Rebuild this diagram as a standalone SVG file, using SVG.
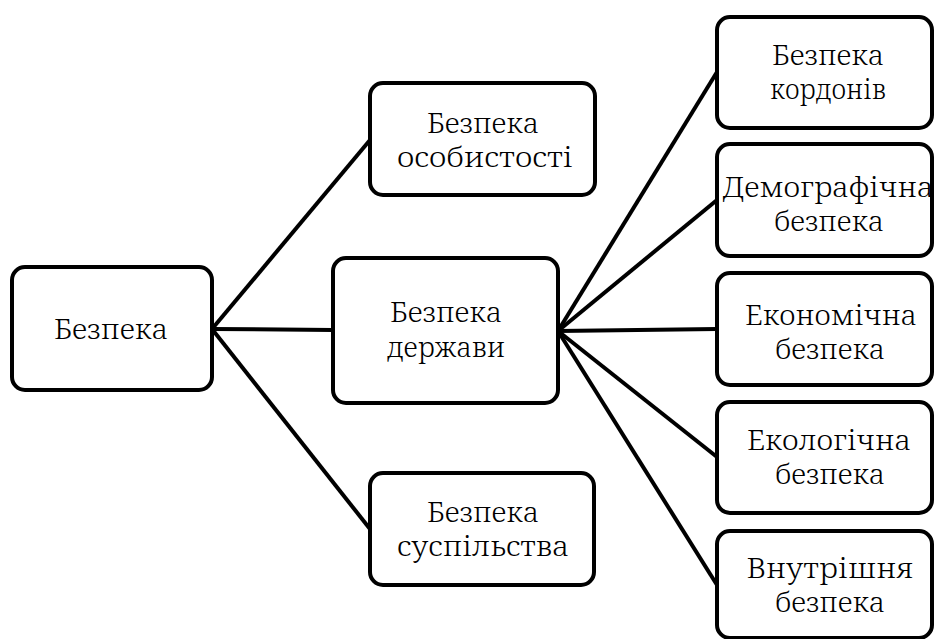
<svg xmlns="http://www.w3.org/2000/svg" width="934" height="639" viewBox="0 0 934 639">
<style>
.box{fill:#fff;stroke:#000;stroke-width:4}
.t{font-family:'Noto Serif','DejaVu Serif',serif;font-size:27.5px;font-weight:300;fill:#000;text-anchor:middle}
.c line{stroke:#000;stroke-width:4}
</style>
<rect width="934" height="639" fill="#fff"/>
<g class="c" id="connectors">
<line x1="212" y1="329" x2="370" y2="140"/>
<line x1="212" y1="329" x2="333" y2="330"/>
<line x1="212" y1="329" x2="370" y2="529"/>
<line x1="558" y1="331" x2="717" y2="72"/>
<line x1="558" y1="331" x2="717" y2="200"/>
<line x1="558" y1="331" x2="717" y2="329"/>
<line x1="558" y1="331" x2="717" y2="457"/>
<line x1="558" y1="331" x2="717" y2="585"/>
</g>
<g id="n-root"><rect class="box" x="12" y="267" width="200" height="123" rx="13"/><text class="t" x="111" y="339" textLength="114" lengthAdjust="spacingAndGlyphs">Безпека</text></g>
<g id="n-person"><rect class="box" x="370" y="83" width="225" height="112" rx="13"/><text class="t" x="483" y="133" textLength="112" lengthAdjust="spacingAndGlyphs">Безпека</text><text class="t" x="485" y="167" textLength="176" lengthAdjust="spacingAndGlyphs">особистості</text></g>
<g id="n-state"><rect class="box" x="333" y="258" width="225" height="145" rx="13"/><text class="t" x="446" y="322" textLength="112" lengthAdjust="spacingAndGlyphs">Безпека</text><text class="t" x="446" y="357" textLength="118" lengthAdjust="spacingAndGlyphs">держави</text></g>
<g id="n-society"><rect class="box" x="370" y="473" width="224" height="112" rx="13"/><text class="t" x="483" y="522" textLength="112" lengthAdjust="spacingAndGlyphs">Безпека</text><text class="t" x="483" y="556" textLength="172" lengthAdjust="spacingAndGlyphs">суспільства</text></g>
<g id="n-borders"><rect class="box" x="717" y="17" width="215" height="111" rx="13"/><text class="t" x="828" y="65" textLength="112" lengthAdjust="spacingAndGlyphs">Безпека</text><text class="t" x="828" y="99" textLength="116" lengthAdjust="spacingAndGlyphs">кордонів</text></g>
<g id="n-demo"><rect class="box" x="717" y="144" width="215" height="112" rx="13"/><text class="t" x="828" y="197" textLength="211" lengthAdjust="spacingAndGlyphs">Демографічна</text><text class="t" x="829" y="231" textLength="110" lengthAdjust="spacingAndGlyphs">безпека</text></g>
<g id="n-econ"><rect class="box" x="717" y="273" width="215" height="112" rx="13"/><text class="t" x="831" y="325" textLength="172" lengthAdjust="spacingAndGlyphs">Економічна</text><text class="t" x="830" y="359" textLength="110" lengthAdjust="spacingAndGlyphs">безпека</text></g>
<g id="n-eco"><rect class="box" x="717" y="402" width="215" height="111" rx="13"/><text class="t" x="829" y="450" textLength="164" lengthAdjust="spacingAndGlyphs">Екологічна</text><text class="t" x="830" y="484" textLength="110" lengthAdjust="spacingAndGlyphs">безпека</text></g>
<g id="n-internal"><rect class="box" x="717" y="531" width="215" height="107" rx="13"/><text class="t" x="830" y="578" textLength="167" lengthAdjust="spacingAndGlyphs">Внутрішня</text><text class="t" x="830" y="612" textLength="110" lengthAdjust="spacingAndGlyphs">безпека</text></g>
</svg>
